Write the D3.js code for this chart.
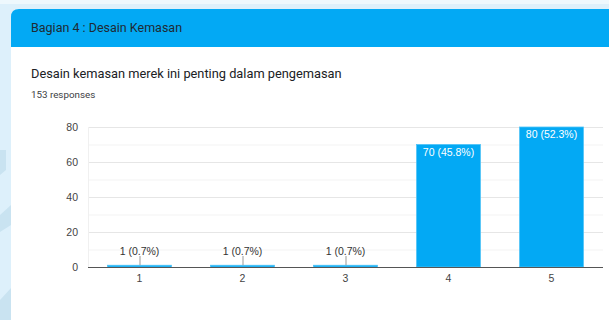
<!DOCTYPE html>
<html>
<head>
<meta charset="utf-8">
<script src="https://cdn.jsdelivr.net/npm/d3@7"></script>
<style>
  html, body { margin: 0; padding: 0; background: #ffffff; }
  svg { display: block; }
</style>
</head>
<body>
<svg id="chart" width="609" height="320"></svg>
<script>
// Survey answers on a 1–5 scale
const categories = ["1", "2", "3", "4", "5"];
const counts = [1, 1, 1, 70, 80];
const percents = ["0.7%", "0.7%", "0.7%", "45.8%", "52.3%"];
const yTicks = [0, 20, 40, 60, 80];
const sectionTitle = "Bagian 4 : Desain Kemasan";
const questionTitle = "Desain kemasan merek ini penting dalam pengemasan";
const responseCount = "153 responses";

(function draw() {
  const svg = d3.select("#chart");
  const W = 609, H = 320;

  // Page background with a faint pattern on the left edge
  svg.append("rect").attr("width", W).attr("height", H).attr("fill", "#ddf0fb");
  svg.append("rect").attr("x", 0).attr("y", 0).attr("width", W).attr("height", 4).attr("fill", "#eef8fd");
  const deco = svg.append("g").attr("fill", "#c9e3f1");
  deco.append("path").attr("d", "M0,215 L11,205 L11,225 L0,232 Z");
  deco.append("path").attr("d", "M0,300 L11,288 L11,320 L0,320 Z");
  deco.append("path").attr("d", "M0,150 L6,150 L6,170 L0,175 Z");

  // Card
  const cardX = 11, cardY = 9, r = 8;
  svg.append("path")
    .attr("d", `M${cardX},${H} L${cardX},${cardY + r} Q${cardX},${cardY} ${cardX + r},${cardY} L${W},${cardY} L${W},${H} Z`)
    .attr("fill", "#ffffff");
  svg.append("path")
    .attr("d", `M${cardX},47 L${cardX},${cardY + r} Q${cardX},${cardY} ${cardX + r},${cardY} L${W},${cardY} L${W},47 Z`)
    .attr("fill", "#03a9f4");

  svg.append("text")
    .attr("x", 31).attr("y", 32)
    .attr("font-family", "Roboto, 'Noto Sans', sans-serif")
    .attr("font-size", 12.5).attr("fill", "#1f2a33")
    .text(sectionTitle);

  svg.append("text")
    .attr("x", 31).attr("y", 78)
    .attr("font-family", "Roboto, 'Noto Sans', sans-serif")
    .attr("font-size", 12.8).attr("fill", "#202124")
    .text(questionTitle);

  svg.append("text")
    .attr("x", 31).attr("y", 98)
    .attr("font-family", "Roboto, 'Noto Sans', sans-serif")
    .attr("font-size", 9.8).attr("fill", "#3c4043")
    .text(responseCount);

  // Plot area
  const pLeft = 88, pRight = 603, pTop = 127, pBottom = 267;
  const x = d3.scaleBand().domain(categories).range([pLeft, pRight]).paddingInner(0.38).paddingOuter(0.19);
  const y = d3.scaleLinear().domain([0, 80]).range([pBottom, pTop]);

  const font = "'Liberation Sans', Arial, sans-serif";

  // Minor and major gridlines
  const g = svg.append("g");
  g.selectAll("line.minor")
    .data(d3.range(10, 80, 20))
    .join("line")
    .attr("class", "minor")
    .attr("x1", pLeft).attr("x2", pRight)
    .attr("y1", d => y(d) + 0.5).attr("y2", d => y(d) + 0.5)
    .attr("stroke", "#f3f3f3");
  g.selectAll("line.major")
    .data(yTicks.filter(d => d > 0))
    .join("line")
    .attr("class", "major")
    .attr("x1", pLeft).attr("x2", pRight)
    .attr("y1", d => y(d) + 0.5).attr("y2", d => y(d) + 0.5)
    .attr("stroke", "#e6e6e6");
  g.append("line")
    .attr("x1", pLeft + 0.5).attr("x2", pLeft + 0.5)
    .attr("y1", pTop).attr("y2", pBottom)
    .attr("stroke", "#f0f0f0");

  // Y axis labels
  const yAxis = svg.append("g")
    .attr("transform", `translate(${pLeft},0)`)
    .call(d3.axisLeft(y).tickValues(yTicks).tickSize(0).tickPadding(10));
  yAxis.select(".domain").remove();
  yAxis.selectAll("text")
    .attr("font-family", font).attr("font-size", 10.5).attr("fill", "#444444");

  // Bars
  const data = categories.map((c, i) => ({ c, v: counts[i], p: percents[i] }));
  svg.append("g").selectAll("rect")
    .data(data)
    .join("rect")
    .attr("x", d => x(d.c))
    .attr("y", d => y(d.v))
    .attr("width", x.bandwidth())
    .attr("height", d => pBottom - y(d.v))
    .attr("fill", "#03a9f4")
    .attr("stroke", "#4fc3f7")
    .attr("stroke-width", 0.8);

  // Value labels: inside tall bars, above short ones with a leader line
  const labels = svg.append("g").attr("font-family", font).attr("font-size", 10.5).attr("text-anchor", "middle");
  data.forEach(d => {
    const cx = x(d.c) + x.bandwidth() / 2;
    const txt = `${d.v} (${d.p})`;
    if (pBottom - y(d.v) > 20) {
      labels.append("text").attr("x", cx).attr("y", y(d.v) + 11)
        .attr("fill", "#ffffff").text(txt);
    } else {
      labels.append("line")
        .attr("x1", cx + 0.5).attr("x2", cx + 0.5)
        .attr("y1", y(d.v)).attr("y2", 256)
        .attr("stroke", "#999999");
      labels.append("text").attr("x", cx).attr("y", 255)
        .attr("fill", "#333333").text(txt);
    }
  });

  // Baseline and category labels
  svg.append("line")
    .attr("x1", pLeft).attr("x2", pRight)
    .attr("y1", pBottom + 0.5).attr("y2", pBottom + 0.5)
    .attr("stroke", "#555555");
  const xAxis = svg.append("g")
    .attr("transform", `translate(0,${pBottom})`)
    .call(d3.axisBottom(x).tickSize(0).tickPadding(8));
  xAxis.select(".domain").remove();
  xAxis.selectAll("text")
    .attr("font-family", font).attr("font-size", 10.5).attr("fill", "#444444");
})();
</script>
</body>
</html>
